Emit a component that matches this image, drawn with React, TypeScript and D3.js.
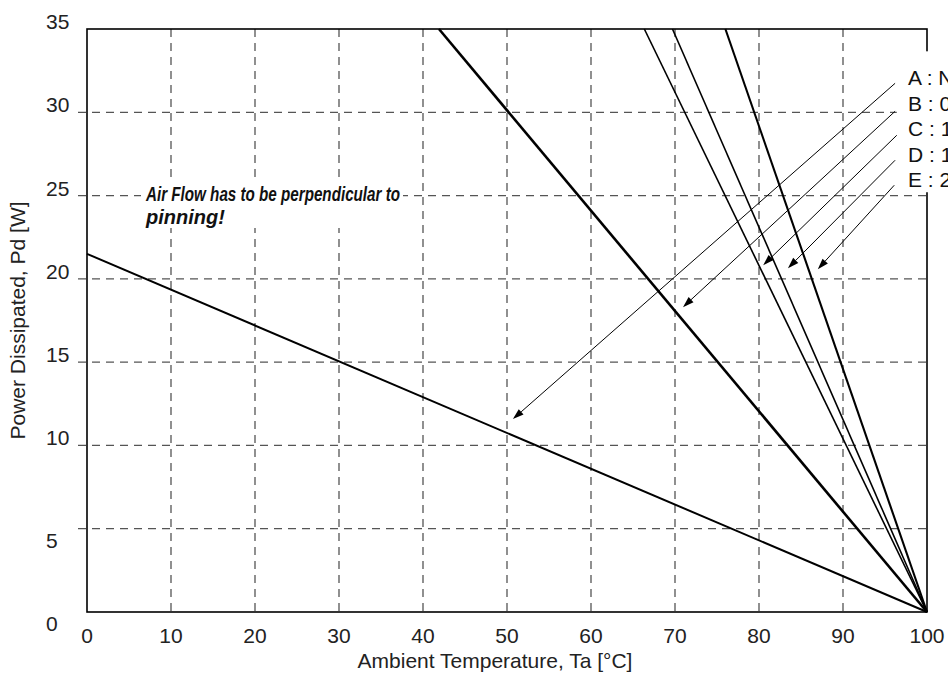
import React from "react";
import * as d3 from "d3";

const W = 948;
const H = 677;

// Axes
const tempTicks = [0, 10, 20, 30, 40, 50, 60, 70, 80, 90, 100];
const powerTicks = [0, 5, 10, 15, 20, 25, 30, 35];

// Derating lines: [Ta, Pd] start point, all end at (100, 0)
const seriesNames = ["A", "B", "C", "D", "E"];
const seriesStart: [number, number][] = [
  [0, 21.5],
  [41.9, 35],
  [66.35, 35],
  [69.7, 35],
  [76.0, 35],
];
const seriesEnd: [number, number] = [100, 0];
const seriesWidths = [2, 2.6, 1.6, 1.6, 2.1];

// Legend labels (clipped by the right edge in the reference)
const legendLabels = [
  "A : Natural convection",
  "B : 0.5 m/s",
  "C : 1 m/s",
  "D : 1.5 m/s",
  "E : 2 m/s",
];

// Leader arrows: from legend (data coords) to curve (data coords)
const arrowFrom: [number, number][] = [
  [96.2, 31.74],
  [96.2, 30.06],
  [96.4, 28.62],
  [96.2, 27.12],
  [96.1, 25.62],
];
const arrowTo: [number, number][] = [
  [50.7, 11.58],
  [70.95, 18.3],
  [80.5, 20.82],
  [83.45, 20.64],
  [87.0, 20.58],
];

const noteLines = ["Air Flow has to be perpendicular to", "pinning!"];

export default function App() {
  const left = 87;
  const right = 927;
  const top = 29;
  const bottom = 612;
  const x = d3.scaleLinear().domain([0, 100]).range([left, right]);
  const y = d3.scaleLinear().domain([0, 35]).range([bottom, top]);
  const line = d3
    .line<[number, number]>()
    .x((d) => x(d[0]))
    .y((d) => y(d[1]));

  const font = "'Liberation Sans', Arial, Helvetica, sans-serif";
  const gridColor = "#555";

  const arrowHead = (from: [number, number], to: [number, number]) => {
    const x1 = x(from[0]);
    const y1 = y(from[1]);
    const x2 = x(to[0]);
    const y2 = y(to[1]);
    const ang = Math.atan2(y2 - y1, x2 - x1);
    const len = 11;
    const half = 3.6;
    const bx = x2 - len * Math.cos(ang);
    const by = y2 - len * Math.sin(ang);
    const px = -Math.sin(ang) * half;
    const py = Math.cos(ang) * half;
    return {
      line: { x1, y1, x2: bx, y2: by },
      pts: `${x2},${y2} ${bx + px},${by + py} ${bx - px},${by - py}`,
    };
  };

  return (
    <svg
      width={W}
      height={H}
      style={{ position: "absolute", left: 0, top: 0, background: "#fff" }}
      fontFamily={font}
    >
      <rect x={0} y={0} width={W} height={H} fill="#fff" />
      {/* vertical grid */}
      {tempTicks
        .filter((t) => t > 0 && t < 100)
        .map((t) => (
          <line
            key={"vg" + t}
            x1={x(t)}
            x2={x(t)}
            y1={y(35)}
            y2={y(0)}
            stroke={gridColor}
            strokeWidth={1.3}
            strokeDasharray="8,6"
          />
        ))}
      {/* horizontal grid */}
      {powerTicks
        .filter((t) => t > 0 && t < 35)
        .map((t) => (
          <line
            key={"hg" + t}
            x1={x(0) - 9}
            x2={x(100)}
            y1={y(t)}
            y2={y(t)}
            stroke={gridColor}
            strokeWidth={1.3}
            strokeDasharray="8,6"
          />
        ))}
      {/* note background */}
      <rect x={141} y={181} width={262} height={47} fill="#fff" />
      {/* frame */}
      <rect
        x={x(0)}
        y={y(35)}
        width={x(100) - x(0)}
        height={y(0) - y(35)}
        fill="none"
        stroke="#000"
        strokeWidth={1.6}
      />
      {/* curves */}
      {seriesNames.map((n, i) => (
        <path
          key={"s" + n}
          d={line([seriesStart[i], seriesEnd]) || ""}
          fill="none"
          stroke="#000"
          strokeWidth={seriesWidths[i]}
        />
      ))}
      {/* legend box */}
      <rect
        x={x(96.4)}
        y={y(33.66)}
        width={W - x(96.4)}
        height={y(25.2) - y(33.66)}
        fill="#fff"
      />
      {legendLabels.map((l, i) => (
        <text
          key={"lg" + i}
          x={908}
          y={85 + i * 25.5}
          fontSize={21}
          fill="#111"
        >
          {l}
        </text>
      ))}
      {/* arrows */}
      {seriesNames.map((n, i) => {
        const a = arrowHead(arrowFrom[i], arrowTo[i]);
        return (
          <g key={"ar" + n}>
            <line {...a.line} stroke="#000" strokeWidth={1} />
            <polygon points={a.pts} fill="#000" />
          </g>
        );
      })}
      {/* note */}
      <text
        x={146}
        y={201}
        fontSize={20}
        fontWeight="bold"
        fontStyle="italic"
        fill="#111"
        textLength={254}
        lengthAdjust="spacingAndGlyphs"
      >
        {noteLines[0]}
      </text>
      <text
        x={146}
        y={224}
        fontSize={20}
        fontWeight="bold"
        fontStyle="italic"
        fill="#111"
      >
        {noteLines[1]}
      </text>
      {/* x tick labels */}
      {tempTicks.map((t) => (
        <text
          key={"xt" + t}
          x={x(t)}
          y={643}
          fontSize={21}
          textAnchor="middle"
          fill="#222"
        >
          {t}
        </text>
      ))}
      {/* y tick labels */}
      {powerTicks.map((t) => (
        <text
          key={"yt" + t}
          x={46}
          y={t >= 10 ? y(t) : y(t) + 19}
          fontSize={21}
          textAnchor="start"
          fill="#222"
        >
          {t}
        </text>
      ))}
      {/* axis titles */}
      <text
        x={(x(0) + x(100)) / 2 - 12}
        y={668}
        fontSize={21}
        textAnchor="middle"
        fill="#222"
      >
        Ambient Temperature, Ta [°C]
      </text>
      <text
        transform={`translate(25, ${(y(0) + y(35)) / 2}) rotate(-90)`}
        fontSize={21}
        textAnchor="middle"
        fill="#222"
      >
        Power Dissipated, Pd [W]
      </text>
    </svg>
  );
}
